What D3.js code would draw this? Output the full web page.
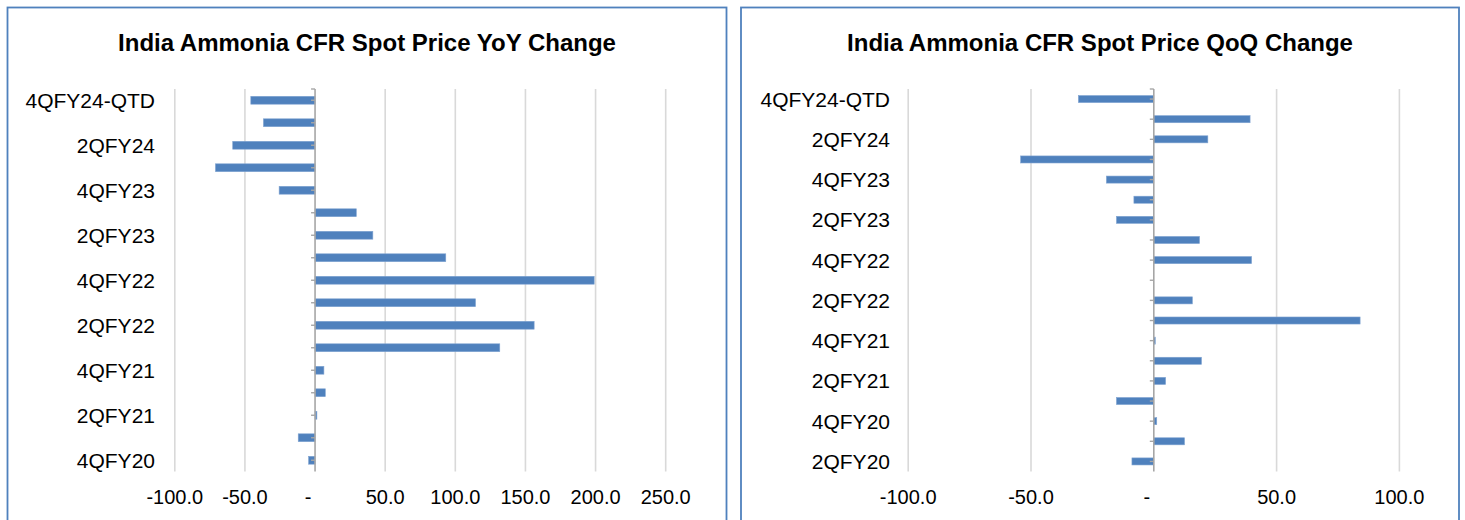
<!DOCTYPE html>
<html>
<head>
<meta charset="utf-8">
<script src="https://cdn.jsdelivr.net/npm/d3@7"></script>
<style>
  body { margin: 0; background: #fff; }
  svg { display: block; font-family: "Liberation Sans", Arial, sans-serif; }
</style>
</head>
<body>
<svg id="chart" width="1465" height="520"></svg>
<script>
// YoY chart data (chronological, drawn bottom to top)
const yoyCategories = ["4QFY20", "1QFY21", "2QFY21", "3QFY21", "4QFY21", "1QFY22", "2QFY22", "3QFY22", "4QFY22",
  "1QFY23", "2QFY23", "3QFY23", "4QFY23", "1QFY24", "2QFY24", "3QFY24", "4QFY24-QTD"];
const yoyValues = [-4.6, -12.0, 1.3, 7.3, 6.3, 131.7, 156.2, 114.4, 199.0,
  93.2, 41.2, 29.4, -25.6, -71.0, -58.7, -36.8, -45.8];
const yoyTicks = [-100, -50, 0, 50, 100, 150, 200, 250];

// QoQ chart data
const qoqCategories = ["2QFY20", "3QFY20", "4QFY20", "1QFY21", "2QFY21", "3QFY21", "4QFY21", "1QFY22", "2QFY22",
  "3QFY22", "4QFY22", "1QFY23", "2QFY23", "3QFY23", "4QFY23", "1QFY24", "2QFY24", "3QFY24", "4QFY24-QTD"];
const qoqValues = [-8.9, 12.5, 1.2, -15.2, 4.8, 19.4, 0.6, 84.0, 15.7,
  0, 39.8, 18.6, -15.2, -8.1, -19.3, -54.2, 22.0, 39.2, -30.7];
const qoqTicks = [-100, -50, 0, 50, 100];

const svg = d3.select("#chart");

// Excel style tick text: one decimal, plain hyphen, zero as "-"
function tickText(d) {
    if (d === 0) return "-";
    return (d < 0 ? "-" : "") + Math.abs(d).toFixed(1);
}

// Function to draw one bar panel
function drawPanel(opts) {
    const g = svg.append("g");

    g.append("rect")
        .attr("x", opts.box[0])
        .attr("y", opts.box[1])
        .attr("width", opts.box[2])
        .attr("height", opts.box[3])
        .attr("fill", "#fff")
        .attr("stroke", "#4f81bd")
        .attr("stroke-width", 1.8);

    g.append("text")
        .attr("x", opts.box[0] + opts.box[2] / 2)
        .attr("y", 51)
        .attr("text-anchor", "middle")
        .style("font-size", "24px")
        .style("font-weight", "bold")
        .text(opts.title);

    const x = d3.scaleLinear()
        .domain(opts.domain)
        .range(opts.xRange);

    // reversed so the latest quarter sits on top
    const y = d3.scaleBand()
        .domain(opts.categories.slice().reverse())
        .range([89, 471.5])
        .paddingInner(0.65)
        .paddingOuter(0.325);

    const top = 89, bottom = 471.5;

    g.selectAll(".grid")
        .data(opts.ticks.filter(d => d !== 0))
        .enter().append("line")
        .attr("x1", d => x(d))
        .attr("x2", d => x(d))
        .attr("y1", top)
        .attr("y2", bottom)
        .attr("stroke", "#d9d9d9")
        .attr("stroke-width", 1.6);

    g.selectAll(".xlab")
        .data(opts.ticks)
        .enter().append("text")
        .attr("x", d => d === 0 ? x(d) - 7 : x(d))
        .attr("y", 504)
        .attr("text-anchor", "middle")
        .style("font-size", "20px")
        .attr("fill", "#000")
        .text(tickText);

    g.selectAll(".bar")
        .data(opts.values)
        .enter().append("rect")
        .attr("x", d => x(Math.min(0, d)))
        .attr("y", (d, i) => y(opts.categories[i]))
        .attr("width", d => Math.abs(x(d) - x(0)))
        .attr("height", y.bandwidth())
        .attr("fill", "#4f81bd")
        .attr("stroke", "#7fa3d1")
        .attr("stroke-width", 0.6);

    // category axis at zero
    g.append("line")
        .attr("x1", x(0)).attr("x2", x(0))
        .attr("y1", top).attr("y2", bottom)
        .attr("stroke", "#a6a6a6")
        .attr("stroke-width", 1.6);

    g.selectAll(".ytick")
        .data(opts.categories)
        .enter().append("line")
        .attr("x1", x(0) - 4)
        .attr("x2", x(0))
        .attr("y1", d => y(d) + y.bandwidth() / 2)
        .attr("y2", d => y(d) + y.bandwidth() / 2)
        .attr("stroke", "#a6a6a6")
        .attr("stroke-width", 1.4);

    g.append("line")
        .attr("x1", x(0) - 4).attr("x2", x(0))
        .attr("y1", top).attr("y2", top)
        .attr("stroke", "#a6a6a6")
        .attr("stroke-width", 1.4);

    // every other category label, starting from the oldest
    g.selectAll(".ylab")
        .data(opts.categories.filter((d, i) => i % 2 === 0))
        .enter().append("text")
        .attr("x", opts.labelRight)
        .attr("y", d => y(d) + y.bandwidth() / 2)
        .attr("dy", "0.36em")
        .attr("text-anchor", "end")
        .style("font-size", "21px")
        .attr("fill", "#000")
        .text(d => d);
}

drawPanel({
    box: [7.5, 7.5, 719, 530],
    title: "India Ammonia CFR Spot Price YoY Change",
    categories: yoyCategories,
    values: yoyValues,
    ticks: yoyTicks,
    domain: [-100, 250],
    xRange: [174.8, 665.7],
    labelRight: 155
});

drawPanel({
    box: [741, 7.5, 718, 530],
    title: "India Ammonia CFR Spot Price QoQ Change",
    categories: qoqCategories,
    values: qoqValues,
    ticks: qoqTicks,
    domain: [-100, 100],
    xRange: [908.2, 1399.4],
    labelRight: 890
});
</script>
</body>
</html>
